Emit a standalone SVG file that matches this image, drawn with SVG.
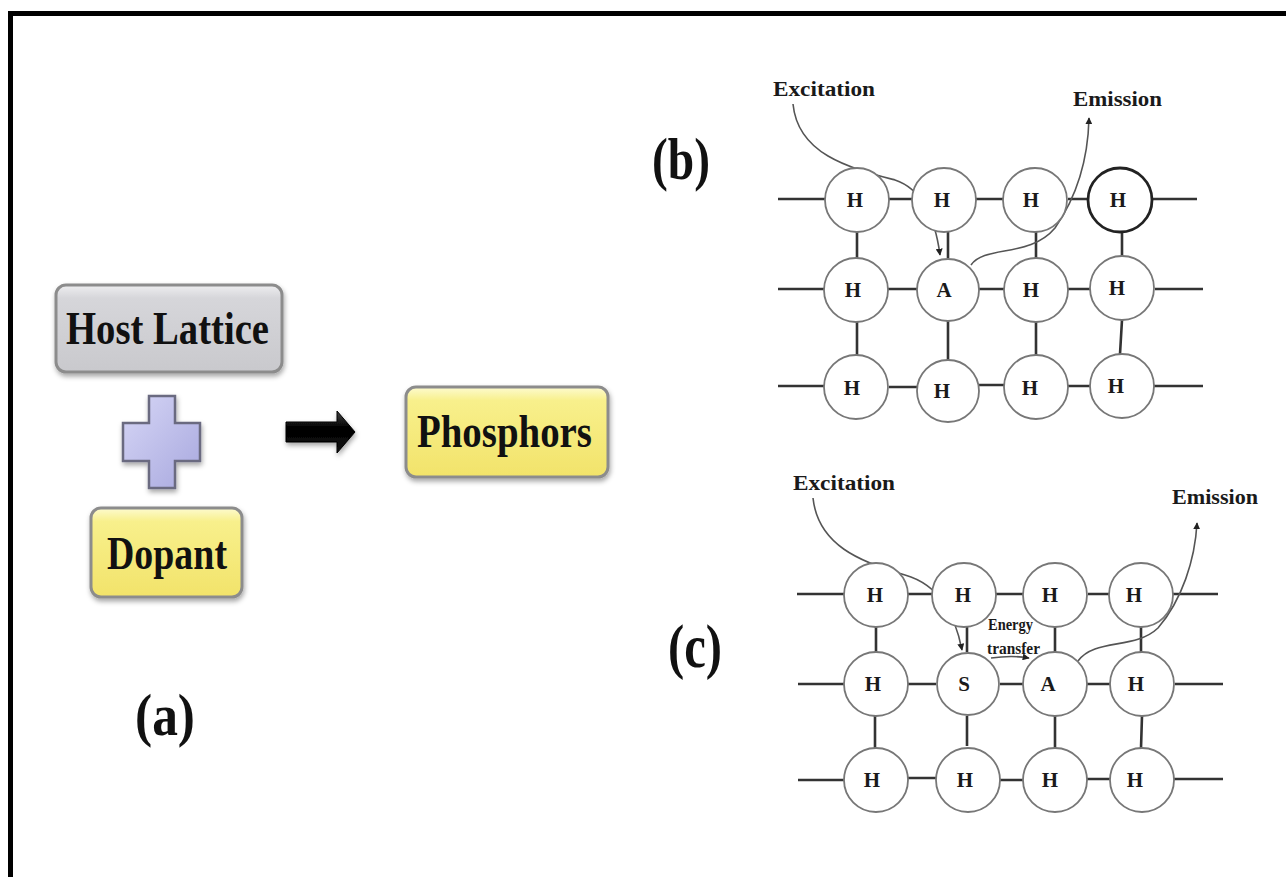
<svg xmlns="http://www.w3.org/2000/svg" width="1286" height="877" viewBox="0 0 1286 877">
<defs>
  <linearGradient id="gGray" x1="0" y1="0" x2="0" y2="1">
    <stop offset="0" stop-color="#eeeef0"/>
    <stop offset="0.15" stop-color="#d6d6da"/>
    <stop offset="1" stop-color="#c9c9cd"/>
  </linearGradient>
  <linearGradient id="gYellow" x1="0" y1="0" x2="0" y2="1">
    <stop offset="0" stop-color="#fdfbd0"/>
    <stop offset="0.15" stop-color="#f8f08c"/>
    <stop offset="1" stop-color="#f2e36a"/>
  </linearGradient>
  <linearGradient id="gPlus" x1="0" y1="0" x2="1" y2="1">
    <stop offset="0" stop-color="#d6d6f6"/>
    <stop offset="1" stop-color="#a8a8de"/>
  </linearGradient>
  <linearGradient id="gArrow" x1="0" y1="0" x2="0" y2="1">
    <stop offset="0" stop-color="#444"/>
    <stop offset="0.4" stop-color="#000"/>
    <stop offset="1" stop-color="#111"/>
  </linearGradient>
  <filter id="shadow" x="-20%" y="-20%" width="140%" height="150%">
    <feDropShadow dx="1" dy="3" stdDeviation="2.5" flood-color="#000" flood-opacity="0.35"/>
  </filter>
  <marker id="ah" viewBox="0 0 10 10" refX="9" refY="5" markerWidth="7" markerHeight="7" markerUnits="userSpaceOnUse" orient="auto">
    <path d="M0,0 L10,5 L0,10 z" fill="#222"/>
  </marker>
  <style>
    .box { stroke: #8c8c8c; stroke-width: 3; filter: url(#shadow); }
    .big { font-family: "Liberation Serif", "Times New Roman", serif; font-weight: bold; fill: #111; }
    .lbl { font-family: "Liberation Serif", "Times New Roman", serif; font-weight: bold; fill: #1a1a1a; }
    .atom { fill: #fff; stroke: #777; stroke-width: 1.8; }
    .atom.bold { stroke: #222; stroke-width: 2.8; }
    .atxt { font-family: "Liberation Serif", "Times New Roman", serif; font-weight: bold; font-size: 21px; fill: #1a1a1a; text-anchor: middle; }
    .bond { stroke: #333; stroke-width: 2.6; fill: none; }
    .curve { stroke: #555; stroke-width: 1.6; fill: none; marker-end: url(#ah); }
  </style>
</defs>
<rect x="0" y="0" width="1286" height="877" fill="#fff"/>
<path d="M10.5,877 V13.5 H1286" fill="none" stroke="#000" stroke-width="5"/>

<!-- Panel (a) -->
<g id="host-lattice">
  <rect class="box" x="56" y="285" width="226" height="87" rx="10" fill="url(#gGray)"/>
  <text class="big" x="66" y="344" font-size="47" textLength="203" lengthAdjust="spacingAndGlyphs">Host Lattice</text>
</g>
<g id="plus">
  <path d="M149,396 H175 V423 H200 V461 H175 V488 H149 V461 H123 V423 H149 Z" fill="url(#gPlus)" stroke="#6a6a80" stroke-width="2.5" filter="url(#shadow)"/>
</g>
<g id="dopant">
  <rect class="box" x="91" y="508" width="151" height="89" rx="10" fill="url(#gYellow)"/>
  <text class="big" x="107" y="569" font-size="47" textLength="120" lengthAdjust="spacingAndGlyphs">Dopant</text>
</g>
<g id="arrow-a">
  <path d="M286,422 H337 V411 L355,432 L337,453 V442 H286 Z" fill="url(#gArrow)" stroke="#000" stroke-width="1" filter="url(#shadow)"/>
</g>
<g id="phosphors">
  <rect class="box" x="406" y="387" width="202" height="90" rx="10" fill="url(#gYellow)"/>
  <text class="big" x="417" y="447" font-size="47" textLength="175" lengthAdjust="spacingAndGlyphs">Phosphors</text>
</g>
<text id="label-a" class="big" x="135" y="735" font-size="60" textLength="60" lengthAdjust="spacingAndGlyphs">(a)</text>

<!-- Panel (b) -->
<text id="label-b" class="big" x="652" y="179" font-size="60" textLength="58" lengthAdjust="spacingAndGlyphs">(b)</text>
<text class="lbl" x="773" y="96" font-size="22" textLength="102" lengthAdjust="spacingAndGlyphs">Excitation</text>
<text class="lbl" x="1073" y="106" font-size="22" textLength="89" lengthAdjust="spacingAndGlyphs">Emission</text>

<g id="connectors-b">
  <path class="bond" d="M778,199 H826 M889,199 H912 M975,199 H1003 M1068,199 H1088 M1153,199 H1197"/>
  <path class="bond" d="M778,289 H824 M888,289 H917 M979,289 H1004 M1068,289 H1090 M1155,289 H1203"/>
  <path class="bond" d="M778,386 H824 M889,387 H917 M979,385 H1004 M1068,386 H1090 M1154,386 H1203"/>
  <path class="bond" d="M857,232 V258 M948,231 V258 M1036,232 V258 M1122,232 V256"/>
  <path class="bond" d="M857,322 V355 M948,321 V360 M1036,321 V355 M1122,320 L1120,354"/>
  <path class="curve" d="M793,104 C798,155 850,168 895,180 C925,190 936,225 940,255"/>
  <path class="curve" d="M971,265 C985,245 1030,258 1055,228 C1078,195 1088,160 1089,118"/>
</g>

<g id="atoms-b">
  <g id="b-r1c1"><circle class="atom" cx="857" cy="200" r="32"/><text class="atxt" x="855" y="207">H</text></g>
  <g id="b-r1c2"><circle class="atom" cx="944" cy="200" r="32"/><text class="atxt" x="942" y="207">H</text></g>
  <g id="b-r1c3"><circle class="atom" cx="1035" cy="200" r="32"/><text class="atxt" x="1031" y="207">H</text></g>
  <g id="b-r1c4"><circle class="atom bold" cx="1120" cy="200" r="32"/><text class="atxt" x="1118" y="207">H</text></g>
  <g id="b-r2c1"><circle class="atom" cx="856" cy="290" r="32"/><text class="atxt" x="853" y="297">H</text></g>
  <g id="b-r2c2"><circle class="atom" cx="948" cy="290" r="31"/><text class="atxt" x="944" y="297">A</text></g>
  <g id="b-r2c3"><circle class="atom" cx="1036" cy="290" r="32"/><text class="atxt" x="1031" y="297">H</text></g>
  <g id="b-r2c4"><circle class="atom" cx="1122" cy="288" r="32"/><text class="atxt" x="1117" y="295">H</text></g>
  <g id="b-r3c1"><circle class="atom" cx="856" cy="387" r="32"/><text class="atxt" x="852" y="395">H</text></g>
  <g id="b-r3c2"><circle class="atom" cx="948" cy="391" r="31"/><text class="atxt" x="942" y="398">H</text></g>
  <g id="b-r3c3"><circle class="atom" cx="1036" cy="387" r="32"/><text class="atxt" x="1030" y="395">H</text></g>
  <g id="b-r3c4"><circle class="atom" cx="1122" cy="386" r="32"/><text class="atxt" x="1116" y="393">H</text></g>
</g>

<!-- Panel (c) -->
<text id="label-c" class="big" x="668" y="667" font-size="62" textLength="54" lengthAdjust="spacingAndGlyphs">(c)</text>
<text class="lbl" x="793" y="490" font-size="22" textLength="102" lengthAdjust="spacingAndGlyphs">Excitation</text>
<text class="lbl" x="1172" y="504" font-size="22" textLength="86" lengthAdjust="spacingAndGlyphs">Emission</text>
<text class="lbl" x="988" y="630" font-size="16" textLength="45" lengthAdjust="spacingAndGlyphs">Energy</text>
<text class="lbl" x="987" y="654" font-size="16" textLength="53" lengthAdjust="spacingAndGlyphs">transfer</text>

<g id="connectors-c">
  <path class="bond" d="M797,594 H844 M908,594 H932 M996,594 H1023 M1088,594 H1109 M1173,594 H1218"/>
  <path class="bond" d="M798,684 H844 M908,684 H936 M1000,684 H1023 M1087,684 H1110 M1175,684 H1223"/>
  <path class="bond" d="M798,780 H844 M908,778 H936 M1000,780 H1023 M1087,779 H1110 M1174,779 H1223"/>
  <path class="bond" d="M876,627 V652 M967,627 V652 M1055,627 V652 M1141,627 V653"/>
  <path class="bond" d="M875,716 V748 M967,716 V746 M1055,716 V748 M1142,716 L1141,748"/>
  <path class="curve" d="M813,498 C818,545 860,562 905,575 C940,585 955,615 962,650"/>
  <path class="curve" d="M991,658 C1005,656 1018,656 1029,658"/>
  <path class="curve" d="M1078,661 C1095,638 1135,650 1158,628 C1182,600 1195,560 1197,523"/>
</g>

<g id="atoms-c">
  <g id="c-r1c1"><circle class="atom" cx="876" cy="595" r="32"/><text class="atxt" x="875" y="602">H</text></g>
  <g id="c-r1c2"><circle class="atom" cx="964" cy="595" r="32"/><text class="atxt" x="963" y="602">H</text></g>
  <g id="c-r1c3"><circle class="atom" cx="1055" cy="595" r="32"/><text class="atxt" x="1050" y="602">H</text></g>
  <g id="c-r1c4"><circle class="atom" cx="1141" cy="595" r="32"/><text class="atxt" x="1134" y="602">H</text></g>
  <g id="c-r2c1"><circle class="atom" cx="876" cy="684" r="32"/><text class="atxt" x="873" y="691">H</text></g>
  <g id="c-r2c2"><circle class="atom" cx="968" cy="684" r="31"/><text class="atxt" x="964" y="691">S</text></g>
  <g id="c-r2c3"><circle class="atom" cx="1055" cy="684" r="32"/><text class="atxt" x="1048" y="691">A</text></g>
  <g id="c-r2c4"><circle class="atom" cx="1142" cy="684" r="32"/><text class="atxt" x="1136" y="691">H</text></g>
  <g id="c-r3c1"><circle class="atom" cx="876" cy="780" r="32"/><text class="atxt" x="872" y="787">H</text></g>
  <g id="c-r3c2"><circle class="atom" cx="968" cy="780" r="32"/><text class="atxt" x="965" y="787">H</text></g>
  <g id="c-r3c3"><circle class="atom" cx="1055" cy="780" r="32"/><text class="atxt" x="1050" y="787">H</text></g>
  <g id="c-r3c4"><circle class="atom" cx="1142" cy="780" r="32"/><text class="atxt" x="1135" y="787">H</text></g>
</g>
</svg>
